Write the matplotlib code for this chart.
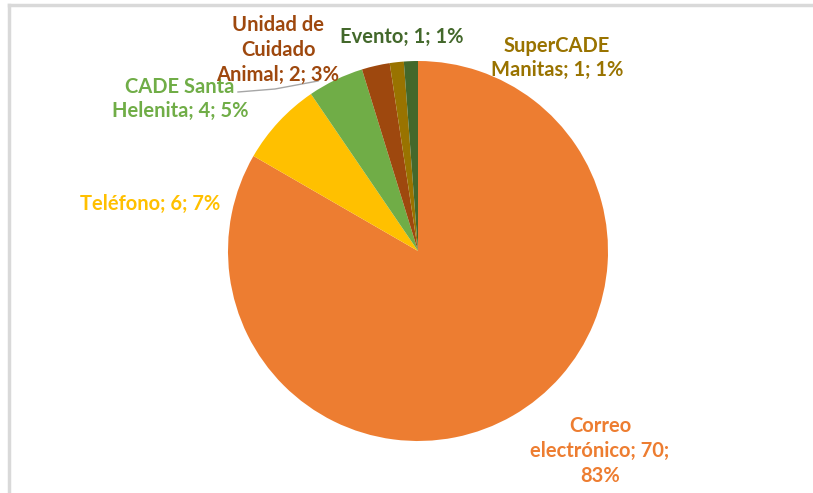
import matplotlib.pyplot as plt
from matplotlib.lines import Line2D

# data
categorias = ['Correo\nelectrónico; 70;\n83%', 'Teléfono; 6; 7%', 'CADE Santa\nHelenita; 4; 5%',
              'Unidad de\nCuidado\nAnimal; 2; 3%', 'SuperCADE\nManitas; 1; 1%', 'Evento; 1; 1%']
valores = [70, 6, 4, 2, 1, 1]
colores = ['#ED7D31', '#FFC000', '#70AD47', '#9E480E', '#997300', '#43682B']

W, H = 813, 493
fig = plt.figure(figsize=(W / 100, H / 100), dpi=100)
ax = fig.add_axes([0, 0, 1, 1])

cx, cy, r = 418, H - 251, 190
ax.pie(valores, colors=colores, startangle=90, counterclock=False,
       center=(cx, cy), radius=r, frame=True,
       wedgeprops=dict(linewidth=0))
ax.set_xlim(0, W)
ax.set_ylim(0, H)
ax.axis('off')

# label positions in pixel coords (x center, y center)
pos = [(600, 451), (150, 204), (180, 99), (278, 50), (557, 58), (402, 37)]
for lab, col, (px, py) in zip(categorias, colores, pos):
    ax.text(px, H - py, lab, color=col, ha='center', va='center', fontsize=14.5,
            fontweight='bold', family='Lato', linespacing=1.3, zorder=5)

# leader line
ax.plot([238, 275, 318], [H - 92, H - 89, H - 81], color='#a6a6a6', lw=1, zorder=4)

# chart border (top and left)
fig.add_artist(Line2D([8.5 / W, 1], [1 - 4.5 / H, 1 - 4.5 / H], color='#d9d9d9', lw=2.5))
fig.add_artist(Line2D([8.5 / W, 8.5 / W], [0, 1 - 4.5 / H], color='#d9d9d9', lw=2.5))

fig.savefig('out.png', dpi=100)
